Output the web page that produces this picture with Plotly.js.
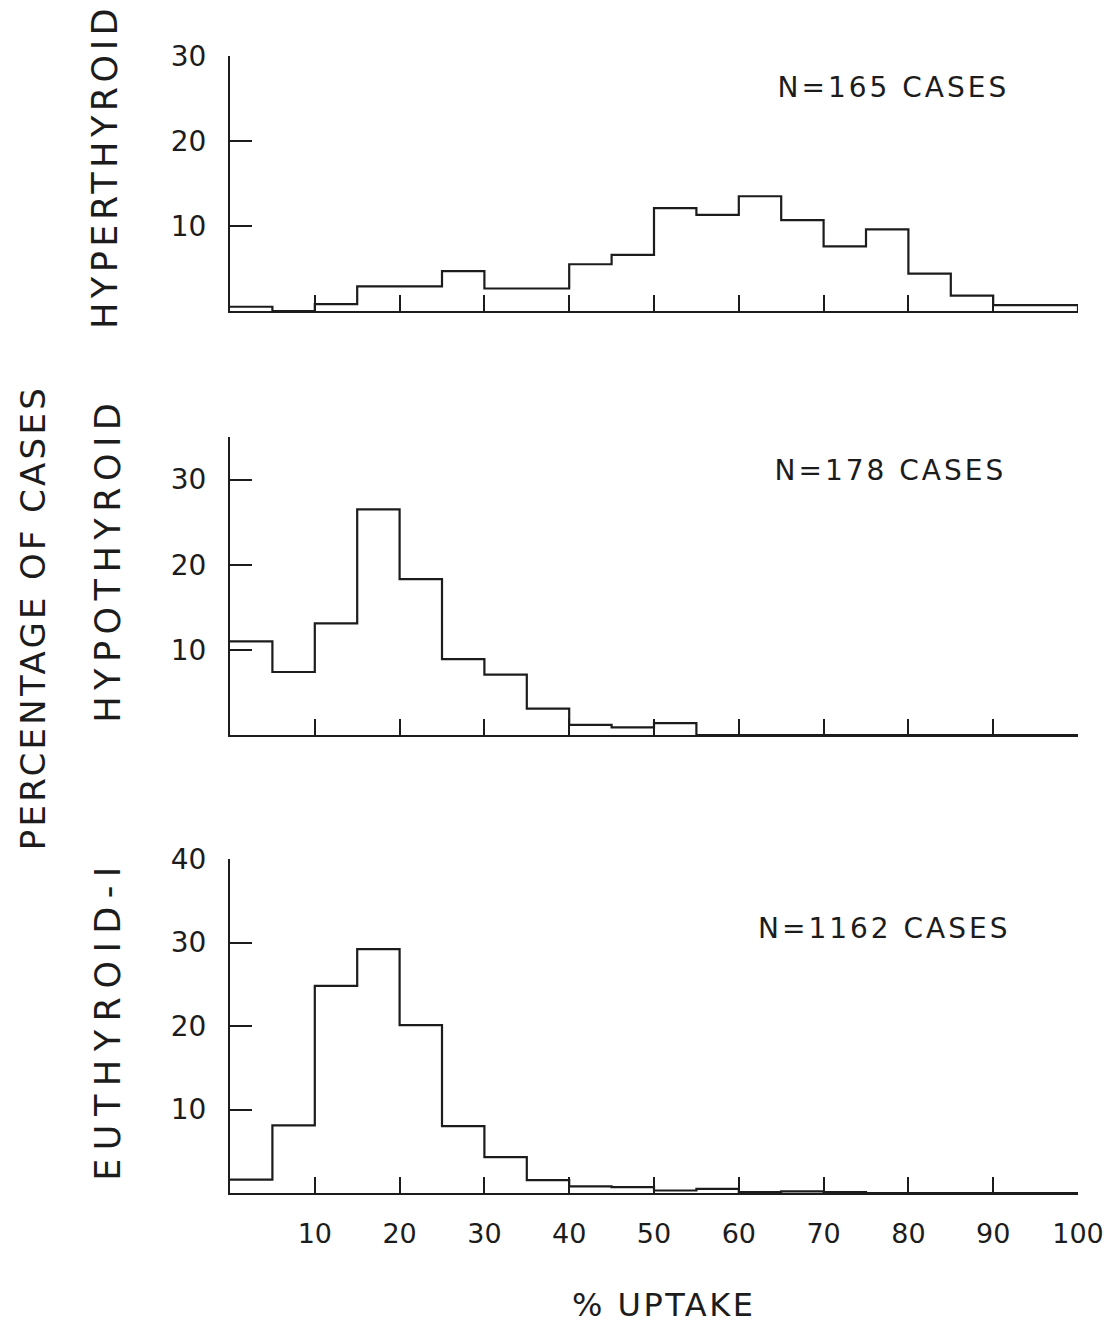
<!DOCTYPE html>
<html>
<head>
<meta charset="utf-8">
<script src="https://cdn.plot.ly/plotly-3.0.1.min.js"></script>
<style>
  html, body { margin: 0; padding: 0; background: #fff; }
  #chart { width: 1116px; height: 1337px; }
</style>
</head>
<body>
<div id="chart"></div>
<script>
// Bin edges of % uptake (5-unit bins)
var binEdges = [0, 5, 10, 15, 20, 25, 30, 35, 40, 45, 50, 55, 60, 65, 70, 75, 80, 85, 90, 95, 100];
// Percentage of cases per bin
var hyperthyroid = [0.5, 0, 0.8, 2.9, 2.9, 4.7, 2.65, 2.65, 5.5, 6.6, 12.1, 11.3, 13.5, 10.7, 7.6, 9.6, 4.4, 1.8, 0.7, 0.7];
var hypothyroid  = [11.0, 7.4, 13.1, 26.5, 18.3, 8.9, 7.1, 3.1, 1.2, 0.9, 1.4, 0, 0, 0, 0, 0, 0, 0, 0, 0];
var euthyroid    = [1.6, 8.1, 24.8, 29.2, 20.1, 8.0, 4.3, 1.55, 0.8, 0.7, 0.3, 0.5, 0.1, 0.2, 0.1, 0, 0, 0, 0, 0];
// Tick labels
var xTickVals = [10, 20, 30, 40, 50, 60, 70, 80, 90, 100];
var xTickText = ["10", "20", "30", "40", "50", "60", "70", "80", "90", "100"];
var yTicksTop = [10, 20, 30];
var yTicksMid = [10, 20, 30];
var yTicksBot = [10, 20, 30, 40];
// Texts
var panelNames = ["HYPERTHYROID", "HYPOTHYROID", "EUTHYROID-I"];
var caseCounts = ["N=165 CASES", "N=178 CASES", "N=1162 CASES"];
var yTitle = "PERCENTAGE OF CASES";
var xTitle = "% UPTAKE";

var INK = "#1c1c1c";
var FONT = "DejaVu Sans";
var W = 1116, H = 1337;

function stepTrace(vals, xa, ya) {
  return {
    x: binEdges,
    y: vals.concat([0]),
    xaxis: xa, yaxis: ya,
    type: "scatter", mode: "lines",
    line: { shape: "hv", color: INK, width: 2.2 },
    hoverinfo: "skip", showlegend: false
  };
}

var data = [
  stepTrace(hyperthyroid, "x", "y"),
  stepTrace(hypothyroid, "x2", "y2"),
  stepTrace(euthyroid, "x3", "y3")
];

function xAxis(anchor, showLabels) {
  return {
    domain: [230 / W, 1078 / W], anchor: anchor, range: [0, 100],
    showgrid: false, zeroline: false, showline: true, linecolor: INK, linewidth: 2,
    ticks: "inside", ticklen: 16, tickwidth: 2, tickcolor: INK,
    tickmode: "array", tickvals: xTickVals, ticktext: xTickText,
    showticklabels: showLabels, ticklabelstandoff: 16,
    tickfont: { family: FONT, size: 27, color: INK }, fixedrange: true
  };
}
function yAxis(anchor, top, bottom, maxV, ticks) {
  return {
    domain: [1 - bottom / H, 1 - top / H], anchor: anchor, range: [0, maxV],
    showgrid: false, zeroline: false, showline: true, linecolor: INK, linewidth: 2,
    ticks: "inside", ticklen: 22, tickwidth: 2, tickcolor: INK,
    tickmode: "array", tickvals: ticks,
    ticklabelstandoff: 16,
    tickfont: { family: FONT, size: 28, color: INK }, fixedrange: true
  };
}

function ann(text, px, py, size, angle) {
  return {
    text: text, xref: "paper", yref: "paper",
    x: px / W, y: 1 - py / H, xanchor: "center", yanchor: "middle",
    showarrow: false, textangle: angle || 0,
    font: { family: FONT, size: size, color: INK }
  };
}

var annSpacing = [3, 3, 3, 4.5, 6.5, 8.5, 3.3, 2.5];

var layout = {
  width: W, height: H,
  margin: { l: 0, r: 0, t: 0, b: 0 },
  paper_bgcolor: "#fff", plot_bgcolor: "#fff",
  xaxis: xAxis("y", false),
  yaxis: yAxis("x", 56, 311, 30, yTicksTop),
  xaxis2: xAxis("y2", false),
  yaxis2: yAxis("x2", 437, 735, 35, yTicksMid),
  xaxis3: xAxis("y3", true),
  yaxis3: yAxis("x3", 859, 1193, 40, yTicksBot),
  annotations: [
    ann(caseCounts[0], 893, 87, 28),
    ann(caseCounts[1], 890, 470, 28),
    ann(caseCounts[2], 884, 929, 28),
    ann(panelNames[0], 105, 167, 35, -90),
    ann(panelNames[1], 108, 560, 35, -90),
    ann(panelNames[2], 108, 1020, 35, -90),
    ann(yTitle, 33, 618, 34, -90),
    ann(xTitle, 663, 1305, 32)
  ]
};

Plotly.newPlot("chart", data, layout, { staticPlot: true, displayModeBar: false }).then(function () {
  var texts = document.querySelectorAll("#chart .annotation-text");
  texts.forEach(function (t, i) {
    if (annSpacing[i] !== undefined) t.style.letterSpacing = annSpacing[i] + "px";
  });
});
</script>
</body>
</html>
